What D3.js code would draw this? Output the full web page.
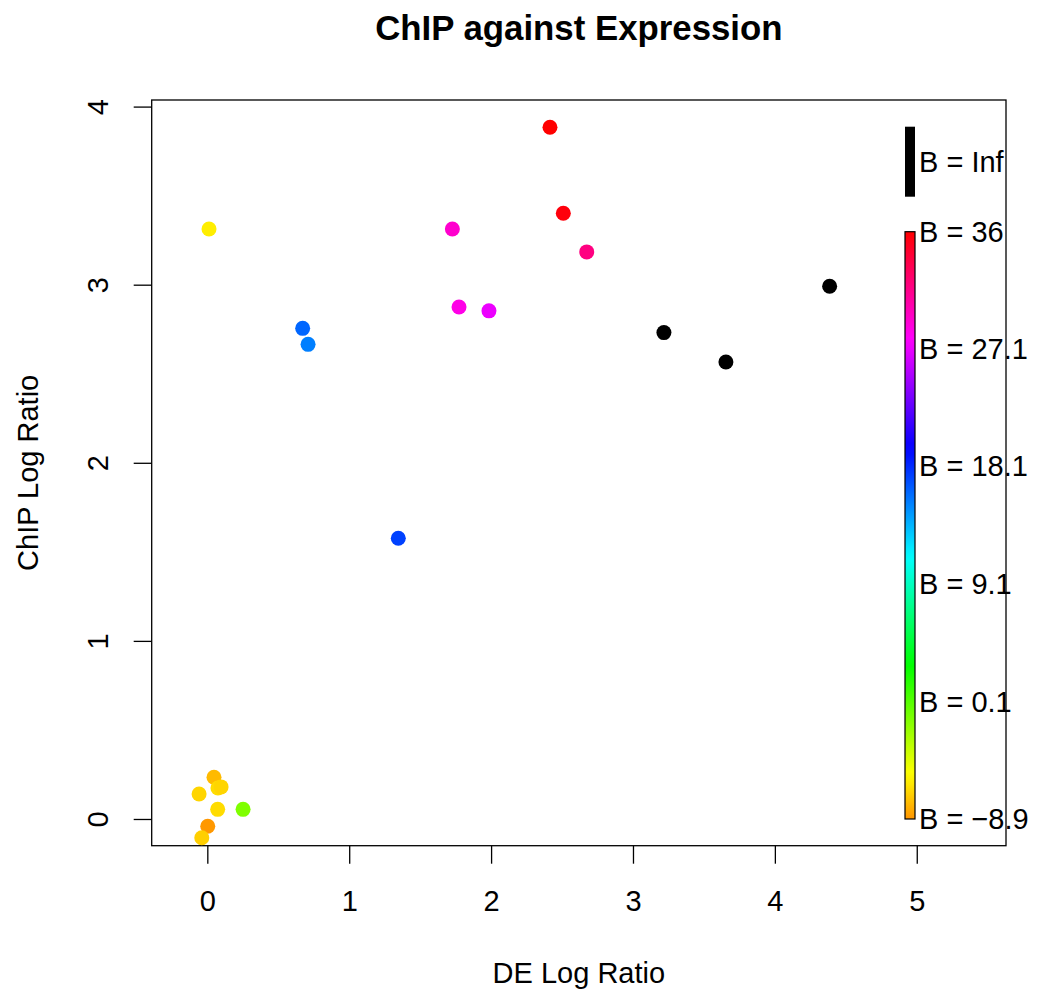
<!DOCTYPE html>
<html>
<head>
<meta charset="utf-8">
<script src="https://cdn.jsdelivr.net/npm/d3@7"></script>
<style>
  body { margin: 0; background: #fff; }
  text { font-family: "Liberation Sans", Arial, sans-serif; fill: #000; }
</style>
</head>
<body>
<div id="chart"></div>
<script>
// Values
const deLogRatio = [2.415, 2.509, 1.727, 2.674, 1.774, 1.985, 0.012, 0.672, 0.710, 1.346,
  3.218, 3.655, 4.386, 0.047, 0.075, 0.097, -0.058, 0.073, 0.252, 0.003, -0.039];
const chipLogRatio = [3.884, 3.401, 3.313, 3.184, 2.875, 2.853, 3.313, 2.755, 2.665, 1.576,
  2.731, 2.566, 2.991, 0.234, 0.174, 0.180, 0.140, 0.054, 0.054, -0.041, -0.105];
const bStat = [36, 35.6, 29.3, 31.8, 28.5, 27.1, -6.0, 16.1, 15.3, 17.3,
  Infinity, Infinity, Infinity, -7.7, -6.6, -6.8, -6.8, -6.6, -1.3, -8.8, -7.0];
const xTicks = [0, 1, 2, 3, 4, 5];
const yTicks = [0, 1, 2, 3, 4];
const legendValues = [-8.9, 0.1, 9.1, 18.1, 27.1, 36];
const bRange = [-8.9, 36];

const config = {
  width: 1038,
  height: 993,
  plot: { left: 151.7, right: 1006, top: 100, bottom: 845.7 },
  fontSize: 29,
  tickSize: 18,
  pointRadius: 7.5,
  legendX: 905,
  legendWidth: 10,
  legendTop: 231.7,
  legendBottom: 819,
  infTop: 126.7,
  infBottom: 196.7,
};

const svg = d3.select("#chart")
  .append("svg")
  .attr("width", config.width)
  .attr("height", config.height);

const p = config.plot;

const x = d3.scaleLinear().domain([-0.392, 5.629]).range([p.left, p.right]);
const y = d3.scaleLinear().domain([-0.15, 4.037]).range([p.bottom, p.top]);

// hue runs from orange (low B) round to red (high B)
const hue = d3.scaleLinear().domain(bRange).range([35, 360]);
const colorOf = (b) => (b === Infinity ? "#000" : d3.hsl(hue(b) % 360, 1, 0.5).formatHex());

// Title and axis labels
svg.append("text")
  .attr("x", (p.left + p.right) / 2)
  .attr("y", 40)
  .attr("text-anchor", "middle")
  .style("font-size", (config.fontSize * 1.2) + "px")
  .style("font-weight", "bold")
  .text("ChIP against Expression");

svg.append("text")
  .attr("x", (p.left + p.right) / 2)
  .attr("y", 983)
  .attr("text-anchor", "middle")
  .style("font-size", config.fontSize + "px")
  .text("DE Log Ratio");

svg.append("text")
  .attr("transform", `translate(38,${(p.top + p.bottom) / 2}) rotate(-90)`)
  .attr("text-anchor", "middle")
  .style("font-size", config.fontSize + "px")
  .text("ChIP Log Ratio");

// Axes
const xAxis = svg.append("g")
  .attr("transform", `translate(0,${p.bottom})`)
  .call(d3.axisBottom(x).tickValues(xTicks).tickSize(config.tickSize).tickFormat(d3.format("d")));
xAxis.select(".domain").remove();
xAxis.selectAll("line").attr("stroke", "#000").attr("stroke-width", 1.3);
xAxis.selectAll("text")
  .attr("y", 65.3)
  .attr("dy", null)
  .style("font-size", config.fontSize + "px")
  .style("font-family", "Liberation Sans, Arial, sans-serif");

const yAxis = svg.append("g")
  .attr("transform", `translate(${p.left},0)`)
  .call(d3.axisLeft(y).tickValues(yTicks).tickSize(config.tickSize).tickFormat(d3.format("d")));
yAxis.select(".domain").remove();
yAxis.selectAll("line").attr("stroke", "#000").attr("stroke-width", 1.3);
yAxis.selectAll("text")
  .attr("x", null)
  .attr("dy", null)
  .attr("y", -43.7)
  .attr("transform", "rotate(-90)")
  .attr("text-anchor", "middle")
  .style("font-size", config.fontSize + "px")
  .style("font-family", "Liberation Sans, Arial, sans-serif");

// Plot box
svg.append("rect")
  .attr("x", p.left)
  .attr("y", p.top)
  .attr("width", p.right - p.left)
  .attr("height", p.bottom - p.top)
  .attr("fill", "none")
  .attr("stroke", "#000")
  .attr("stroke-width", 1.3);

// Points
const points = deLogRatio.map((d, i) => ({ x: d, y: chipLogRatio[i], b: bStat[i] }));
svg.append("g")
  .selectAll("circle")
  .data(points)
  .join("circle")
  .attr("cx", (d) => x(d.x))
  .attr("cy", (d) => y(d.y))
  .attr("r", config.pointRadius)
  .attr("fill", (d) => colorOf(d.b));

// Colour legend
const legendY = d3.scaleLinear().domain(bRange).range([config.legendBottom, config.legendTop]);

const grad = svg.append("defs")
  .append("linearGradient")
  .attr("id", "b-gradient")
  .attr("x1", 0).attr("y1", 1)
  .attr("x2", 0).attr("y2", 0);

grad.selectAll("stop")
  .data(d3.range(0, 1.0001, 0.02))
  .join("stop")
  .attr("offset", (t) => t * 100 + "%")
  .attr("stop-color", (t) => colorOf(bRange[0] + t * (bRange[1] - bRange[0])));

svg.append("rect")
  .attr("x", config.legendX)
  .attr("y", config.legendTop)
  .attr("width", config.legendWidth)
  .attr("height", config.legendBottom - config.legendTop)
  .attr("fill", "url(#b-gradient)")
  .attr("stroke", "#000")
  .attr("stroke-width", 1.2);

svg.append("rect")
  .attr("x", config.legendX)
  .attr("y", config.infTop)
  .attr("width", config.legendWidth)
  .attr("height", config.infBottom - config.infTop)
  .attr("fill", "#000");

const fmtB = (v) => "B = " + String(v).replace("-", "\u2212");

svg.append("g")
  .selectAll("text")
  .data(legendValues)
  .join("text")
  .attr("x", config.legendX + config.legendWidth + 4)
  .attr("y", (d) => legendY(d))
  .attr("dy", "0.36em")
  .style("font-size", config.fontSize + "px")
  .text(fmtB);

svg.append("text")
  .attr("x", config.legendX + config.legendWidth + 4)
  .attr("y", (config.infTop + config.infBottom) / 2)
  .attr("dy", "0.36em")
  .style("font-size", config.fontSize + "px")
  .text("B = Inf");
</script>
</body>
</html>
